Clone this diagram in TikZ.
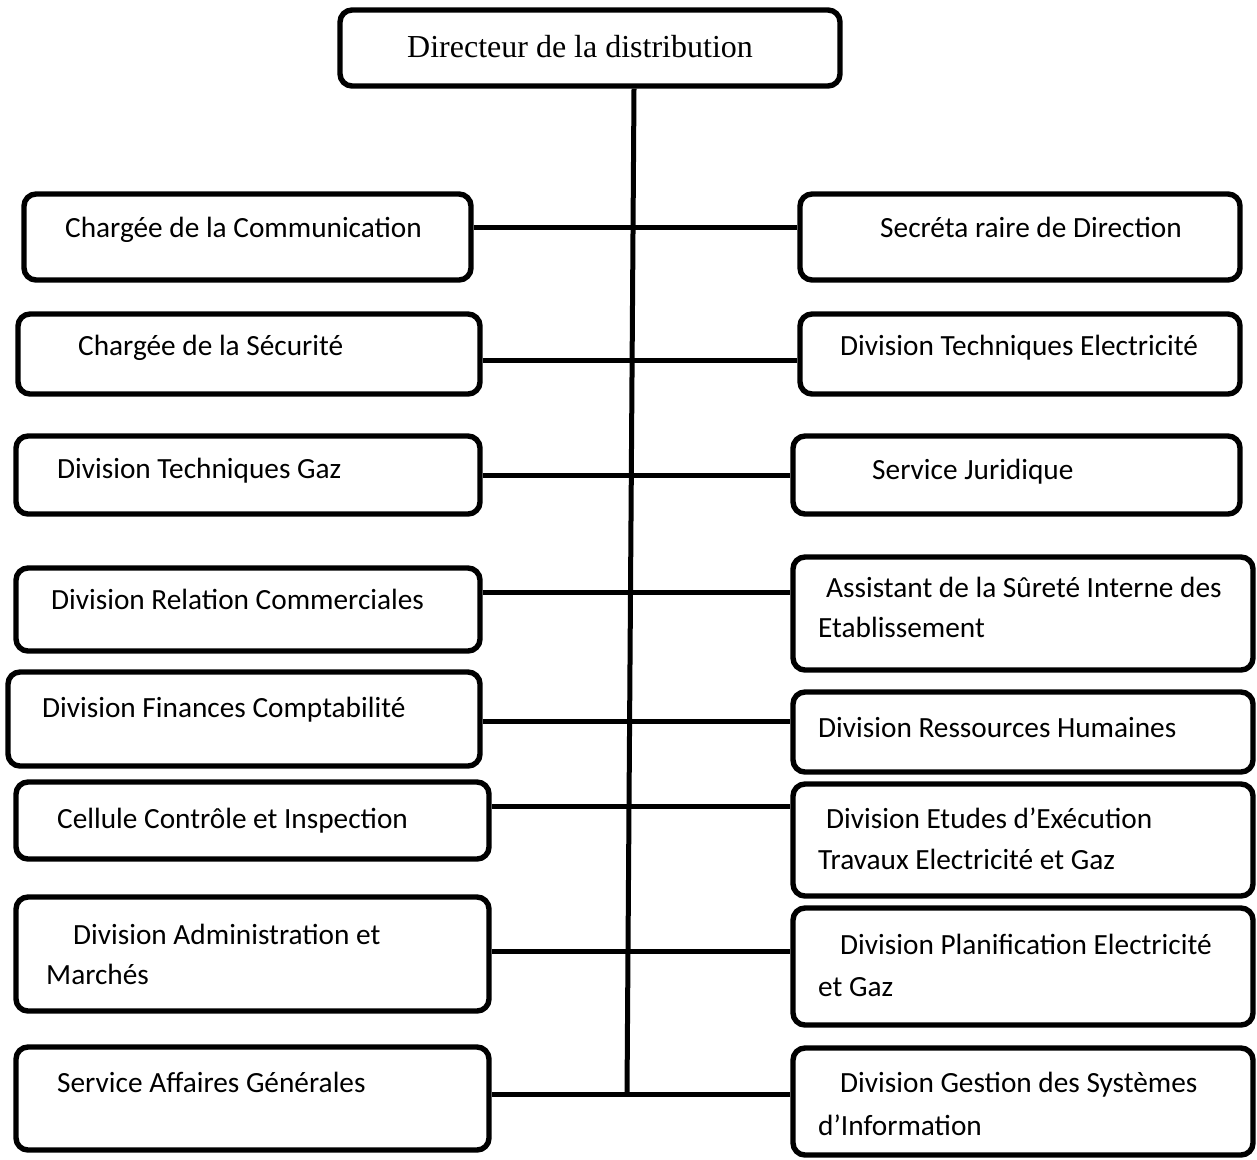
\documentclass[tikz,border=0pt]{standalone}
\usepackage{fontspec}
\setmainfont{Carlito}
\newfontfamily\serifdir{Liberation Serif}
\begin{document}
\begin{tikzpicture}[x=1pt,y=-1pt,
  box/.style={draw=black, line width=5.4pt, rounded corners=12pt, inner sep=0pt, fill=white},
  lbl/.style={anchor=base west, inner sep=0pt, font=\fontsize{29.3}{35}\selectfont},
  conn/.style={draw=black, line width=5pt}]
\useasboundingbox (0,0) rectangle (1257,1159);
% top box
\node[box, minimum width=500pt, minimum height=76pt] (top) at (590,48) {};
\node[anchor=base west, inner sep=0pt, font=\serifdir\fontsize{32}{38}\selectfont] (topt) at (407,57) {Directeur de la distribution};
% left boxes
\node[box, minimum width=447pt, minimum height=86pt] (l1) at (247.5,237) {};
\node[box, minimum width=462pt, minimum height=80pt] (l2) at (249,354) {};
\node[box, minimum width=464pt, minimum height=78pt] (l3) at (248,475) {};
\node[box, minimum width=464pt, minimum height=83pt] (l4) at (248,609.5) {};
\node[box, minimum width=472pt, minimum height=94pt] (l5) at (244,719) {};
\node[box, minimum width=473pt, minimum height=77pt] (l6) at (252.5,820.5) {};
\node[box, minimum width=473pt, minimum height=114pt] (l7) at (252.5,954) {};
\node[box, minimum width=473pt, minimum height=103pt] (l8) at (252.5,1098.5) {};
% right boxes
\node[box, minimum width=440pt, minimum height=86pt] (r1) at (1020,237) {};
\node[box, minimum width=440pt, minimum height=80pt] (r2) at (1020,354) {};
\node[box, minimum width=447pt, minimum height=78pt] (r3) at (1016.5,475) {};
\node[box, minimum width=460pt, minimum height=113pt] (r4) at (1023,613.5) {};
\node[box, minimum width=460pt, minimum height=80pt] (r5) at (1023,732) {};
\node[box, minimum width=460pt, minimum height=112pt] (r6) at (1023,840) {};
\node[box, minimum width=460pt, minimum height=117pt] (r7) at (1023,966.5) {};
\node[box, minimum width=460pt, minimum height=107pt] (r8) at (1023,1101.5) {};
% texts left
\node[lbl] (l1t) at (65,237) {Chargée de la Communication};
\node[lbl] (l2t) at (78,355) {Chargée de la Sécurité};
\node[lbl] (l3t) at (57,478) {Division Techniques Gaz};
\node[lbl] (l4t) at (51,609) {Division Relation Commerciales};
\node[lbl] (l5t) at (42,717) {Division Finances Comptabilité};
\node[lbl] (l6t) at (57,828) {Cellule Contrôle et Inspection};
\node[lbl] (l7t) at (73,944) {Division Administration et};
\node[lbl] (l7u) at (46,984) {Marchés};
\node[lbl] (l8t) at (57,1092) {Service Affaires Générales};
% texts right
\node[lbl] (r1t) at (880,237) {Secréta raire de Direction};
\node[lbl] (r2t) at (840,355) {Division Techniques Electricité};
\node[lbl] (r3t) at (872,479) {Service Juridique};
\node[lbl] (r4t) at (826,597) {Assistant de la Sûreté Interne des};
\node[lbl] (r4u) at (818,637) {Etablissement};
\node[lbl] (r5t) at (818,737) {Division Ressources Humaines};
\node[lbl] (r6t) at (826,828) {Division Etudes d’Exécution};
\node[lbl] (r6u) at (818,869) {Travaux Electricité et Gaz};
\node[lbl] (r7t) at (840,954) {Division Planification Electricité};
\node[lbl] (r7u) at (818,996) {et Gaz};
\node[lbl] (r8t) at (840,1092) {Division Gestion des Systèmes};
\node[lbl] (r8u) at (818,1135) {d’Information};
% spine
\coordinate (sptop) at (634,86);
\coordinate (spbot) at (627,1094);
\draw[conn] (top.south -| sptop) -- (spbot);
% connectors
\coordinate (c1) at (0,227);
\coordinate (c2) at (0,360);
\coordinate (c3) at (0,475);
\coordinate (c4) at (0,592);
\coordinate (c5) at (0,721);
\coordinate (c6) at (0,806);
\coordinate (c7) at (0,951);
\coordinate (c8) at (0,1094);
\draw[conn] (l1.east |- c1) -- (r1.west |- c1);
\draw[conn] (l2.east |- c2) -- (r2.west |- c2);
\draw[conn] (l3.east |- c3) -- (r3.west |- c3);
\draw[conn] (l4.east |- c4) -- (r4.west |- c4);
\draw[conn] (l5.east |- c5) -- (r5.west |- c5);
\draw[conn] (l6.east |- c6) -- (r6.west |- c6);
\draw[conn] (l7.east |- c7) -- (r7.west |- c7);
\draw[conn] (l8.east |- c8) -- (r8.west |- c8);
\end{tikzpicture}
\end{document}
